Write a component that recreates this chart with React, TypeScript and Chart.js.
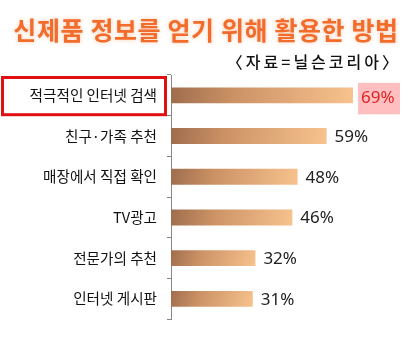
import React, { useEffect, useRef } from "react";
import { Chart, registerables } from "chart.js";

Chart.register(...registerables);

const categories = [
  "적극적인 인터넷 검색",
  "친구·가족 추천",
  "매장에서 직접 확인",
  "TV광고",
  "전문가의 추천",
  "인터넷 게시판",
];
const values = [69, 59, 48, 46, 32, 31];
const valueLabels = ["69%", "59%", "48%", "46%", "32%", "31%"];
const titleText = "신제품 정보를 얻기 위해 활용한 방법";
const subtitleText = "〈자료=닐슨코리아〉";

const overlayPlugin = {
  id: "overlay",
  afterDraw(chart: any) {
    const ctx = chart.ctx as CanvasRenderingContext2D;
    // Title
    ctx.save();
    ctx.font = "bold 25px 'Noto Sans CJK KR'";
    (ctx as any).letterSpacing = "0.6px";
    ctx.textAlign = "center";
    ctx.textBaseline = "middle";
    ctx.shadowColor = "rgba(245,140,80,0.45)";
    ctx.shadowBlur = 4;
    ctx.fillStyle = "#f26c2c";
    ctx.fillText(titleText, 206, 30);
    ctx.restore();

    // Subtitle
    ctx.save();
    ctx.font = "500 16px 'Noto Sans CJK KR'";
    (ctx as any).letterSpacing = "3px";
    ctx.textAlign = "right";
    ctx.textBaseline = "middle";
    ctx.fillStyle = "#111";
    ctx.fillText(subtitleText, 401, 62);
    ctx.restore();

    // Red box around first label
    const yScale = chart.scales.y;
    const step = yScale.getPixelForTick(1) - yScale.getPixelForTick(0);
    const c0 = yScale.getPixelForTick(0);
    ctx.save();
    ctx.strokeStyle = "#e01010";
    ctx.lineWidth = 3;
    ctx.strokeRect(2.5, c0 - step / 2 + 2.5, 163, step - 3.5);
    ctx.restore();

    // Value labels
    const meta = chart.getDatasetMeta(0);
    meta.data.forEach((bar: any, i: number) => {
      ctx.save();
      ctx.font = "17px 'Noto Sans'";
      ctx.textBaseline = "middle";
      ctx.textAlign = "left";
      if (i === 0) {
        ctx.fillStyle = "#ffbfc0";
        ctx.fillRect(bar.x + 5, bar.y - 12.5, 42, 31.5);
        ctx.fillStyle = "#e02424";
        ctx.fillText(valueLabels[i], bar.x + 8, bar.y + 3);
      } else {
        ctx.fillStyle = "#222";
        ctx.fillText(valueLabels[i], bar.x + 8, bar.y + 1);
      }
      ctx.restore();
    });
  },
};

export default function App() {
  const ref = useRef<HTMLCanvasElement | null>(null);
  useEffect(() => {
    if (!ref.current) return;
    const chart = new Chart(ref.current, {
      type: "bar",
      data: {
        labels: categories,
        datasets: [
          {
            data: values,
            barPercentage: 0.39,
            categoryPercentage: 1,
            backgroundColor: (context: any) => {
              const ch = context.chart;
              const area = ch.chartArea;
              if (!area || context.raw === undefined) return "#d89a6a";
              const xs = ch.scales.x;
              const ys = ch.scales.y;
              const x0 = xs.getPixelForValue(0);
              const x1 = xs.getPixelForValue(context.raw);
              const yc = ys.getPixelForValue(context.dataIndex);
              const g = ch.ctx.createLinearGradient(x0, yc - 12, x1, yc + 12);
              g.addColorStop(0, "#9e6c4c");
              g.addColorStop(0.35, "#cc9266");
              g.addColorStop(1, "#f8c38e");
              return g;
            },
            borderWidth: 0,
          },
        ],
      },
      options: {
        indexAxis: "y",
        animation: false,
        responsive: false,
        maintainAspectRatio: false,
        layout: { padding: { top: 75, bottom: 7, left: 0, right: 21 } },
        plugins: {
          legend: { display: false },
          tooltip: { enabled: false },
          title: { display: false },
        },
        scales: {
          x: {
            display: false,
            min: 0,
            max: 80,
          },
          y: {
            afterFit: (s: any) => {
              s.width = 171;
            },
            grid: {
              drawOnChartArea: false,
              drawTicks: true,
              tickLength: 4,
              color: "#888",
              offset: true,
            },
            border: { display: true, color: "#888", width: 1 },
            ticks: {
              padding: 10,
              color: "#111",
              font: { family: "'Noto Sans CJK KR'", size: 14.6 },
            },
          },
        },
      },
      plugins: [overlayPlugin],
    });
    return () => chart.destroy();
  }, []);
  return (
    <div style={{ position: "absolute", left: 0, top: 0, width: 403, height: 338, background: "#fff" }}>
      <canvas ref={ref} width={403} height={338} style={{ display: "block" }} />
    </div>
  );
}
